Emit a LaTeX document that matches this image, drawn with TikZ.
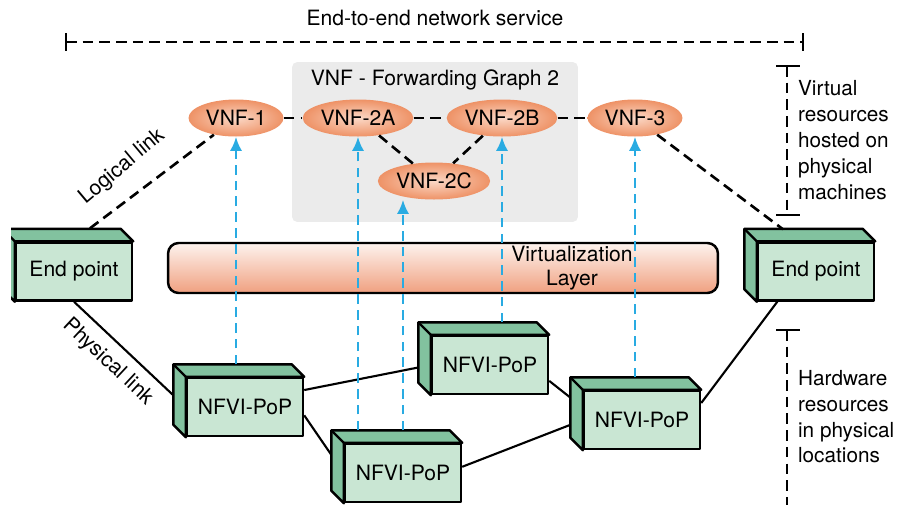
\documentclass[tikz,border=0pt]{standalone}
\usepackage{fontspec}
\setmainfont{TeX Gyre Heros}
\usepackage{tikz}
\usetikzlibrary{calc}
\usetikzlibrary{arrows.meta, shapes.geometric}
\usetikzlibrary{backgrounds}

\definecolor{boxfront}{HTML}{C9E6D3}
\definecolor{boxside}{HTML}{82C29F}
\definecolor{vnfin}{HTML}{FBD8C6}
\definecolor{vnfout}{HTML}{EE9266}
\definecolor{layertop}{HTML}{FDF3EE}
\definecolor{layerbot}{HTML}{F0A080}
\definecolor{graphbg}{HTML}{EBEBEB}
\definecolor{virtblue}{HTML}{29ABE2}

\tikzset{
  frontbox/.style={draw, line width=1.4pt, fill=boxfront, minimum width=2.32cm,
    minimum height=1.16cm, line join=round},
  sideface/.style={draw, line width=1.4pt, fill=boxside, line join=round},
  vnf/.style={ellipse, shading=radial, inner color=vnfin, outer color=vnfout,
    minimum width=1.9cm, minimum height=0.74cm, inner sep=1pt},
  logical/.style={line width=1.5pt, dash pattern=on 6pt off 3.5pt},
  physical/.style={line width=1.2pt},
  virtlink/.style={virtblue, line width=1.4pt, dash pattern=on 5.5pt off 3.5pt,
    -{Latex[length=8pt,width=7pt]}},
  span/.style={line width=1.4pt, dash pattern=on 6pt off 3.5pt},
  spantick/.style={line width=1.4pt},
  layerbar/.style={draw, line width=1.4pt, rounded corners=6pt, top color=layertop,
    bottom color=layerbot, minimum width=11cm, minimum height=1cm},
  graphbox/.style={fill=graphbg, rounded corners=3pt, minimum width=5.72cm,
    minimum height=3.2cm},
}

% hardware box with a top and a left face
\newcommand{\hwbox}[3]{%
  \node[frontbox] (#1) at (#2) {#3};
  \draw[sideface] (#1.south west) -- ++(-\dep,-\dep) |- ($(#1.north east)+(-\dep,-\dep)$)
    -- (#1.north east) -- (#1.north west) -- cycle;
  \draw[line width=1.4pt] (#1.north west) -- ++(-\dep,-\dep);
  \coordinate (#1-top) at ($(#1.north)+(-\dep,-\dep)$);
}

\begin{document}
\begin{tikzpicture}[x=0.02cm, y=-0.02cm, font=\fontsize{12}{15}\selectfont]
    \def\dep{12.5}; % depth of the boxes
    \useasboundingbox (0,0) rectangle (900,505);

    % service span %%%%%%%%%%%%%%%%%%%%%%%%%%%%%%%%%%%%%%%%%%%%%%%%%%%%%%%%%%%%%%%%%%%%%%%%%%%
    \node (service) at (435,18) {End-to-end network service};
    \coordinate (svcl) at (66,42);
    \coordinate (svcr) at (803,42);
    \draw[span] (svcl) -- (svcr);
    \draw[spantick] ($(svcl)+(0,-9)$) -- ($(svcl)+(0,9)$);
    \draw[spantick] ($(svcr)+(0,-9)$) -- ($(svcr)+(0,9)$);

    % right brackets %%%%%%%%%%%%%%%%%%%%%%%%%%%%%%%%%%%%%%%%%%%%%%%%%%%%%%%%%%%%%%%%%%%%%%%%%%
    \coordinate (virttop) at (787,66);
    \coordinate (virtbot) at (787,215);
    \draw[span] (virttop) -- (virtbot);
    \draw[spantick] ($(virttop)+(-11,0)$) -- ($(virttop)+(13,0)$);
    \draw[spantick] ($(virtbot)+(-11,0)$) -- ($(virtbot)+(13,0)$);
    \node[anchor=west, align=left, inner sep=1pt, font=\fontsize{11.8}{14.8}\selectfont]
      (virtnote) at (796,140) {Virtual\\resources\\hosted on\\physical\\machines};

    \coordinate (hwtop) at (787,330);
    \coordinate (hwbot) at (787,505);
    \draw[span] (hwtop) -- (hwbot);
    \draw[spantick] ($(hwtop)+(-11,0)$) -- ($(hwtop)+(13,0)$);
    \node[anchor=west, align=left, inner sep=1pt, font=\fontsize{11.8}{14.6}\selectfont]
      (hwnote) at (796,417) {Hardware\\resources\\in physical\\locations};

    % forwarding graph %%%%%%%%%%%%%%%%%%%%%%%%%%%%%%%%%%%%%%%%%%%%%%%%%%%%%%%%%%%%%%%%%%%%%%%%
    \node[graphbox] (fg) at (435,142) {};
    \node (fgtitle) at (435,80) {VNF - Forwarding Graph 2};

    \node[vnf] (vnf1)  at (236,118) {VNF-1};
    \node[vnf] (vnf2a) at (358,118) {VNF-2A};
    \node[vnf] (vnf2b) at (502,118) {VNF-2B};
    \node[vnf] (vnf3)  at (635,118) {VNF-3};
    \node[vnf] (vnf2c) at (434,181) {VNF-2C};

    % virtualization layer %%%%%%%%%%%%%%%%%%%%%%%%%%%%%%%%%%%%%%%%%%%%%%%%%%%%%%%%%%%%%%%%%%%
    \node[layerbar] (virt) at (443,268) {};
    \node[align=center, font=\fontsize{12}{14}\selectfont] (virttext) at (572,268)
      {Virtualization\\Layer};

    % end points and NFVI-PoPs %%%%%%%%%%%%%%%%%%%%%%%%%%%%%%%%%%%%%%%%%%%%%%%%%%%%%%%%%%%%%%%
    \begin{scope}
      \clip (11,0) rectangle (900,505);
      \hwbox{ep1}{74,271.5}{End point}
    \end{scope}
    \hwbox{ep2}{816,271.5}{End point}
    \hwbox{pop1}{245,407}{NFVI-PoP}
    \hwbox{pop2}{490,365}{NFVI-PoP}
    \hwbox{pop3}{403,473}{NFVI-PoP}
    \hwbox{pop4}{642,420}{NFVI-PoP}

    % physical links %%%%%%%%%%%%%%%%%%%%%%%%%%%%%%%%%%%%%%%%%%%%%%%%%%%%%%%%%%%%%%%%%%%%%%%%%%
    \begin{scope}[on background layer]
      \draw[physical] (ep1.south) -- (pop1.west);
      \draw[physical] (pop1.16) -- (pop2.west);
      \draw[physical] (pop1.-8) -- (pop3.west);
      \draw[physical] (pop3.6) -- (pop4.west);
      \draw[physical] (pop2.-15) -- (pop4.168);
      \draw[physical] (pop4.16) -- (ep2.218);
    \end{scope}

    % logical links %%%%%%%%%%%%%%%%%%%%%%%%%%%%%%%%%%%%%%%%%%%%%%%%%%%%%%%%%%%%%%%%%%%%%%%%%%%
    \draw[logical] ($(ep1.north)+(16,-13)$) -- (vnf1);
    \draw[logical] (vnf1) -- (vnf2a);
    \draw[logical] (vnf2a) -- (vnf2b);
    \draw[logical] (vnf2b) -- (vnf3);
    \draw[logical] (vnf2a) -- (vnf2c);
    \draw[logical] (vnf2b) -- (vnf2c);
    \draw[logical] (vnf3) -- ($(ep2.north)+(-33,-12)$);

    % virtual links %%%%%%%%%%%%%%%%%%%%%%%%%%%%%%%%%%%%%%%%%%%%%%%%%%%%%%%%%%%%%%%%%%%%%%%%%%%
    \draw[virtlink] (vnf1.south |- pop1-top) -- (vnf1.south);
    \draw[virtlink] (vnf2a.south |- pop3-top) -- (vnf2a.south);
    \draw[virtlink] (pop3.north |- pop3-top) -- (pop3.north |- vnf2c.south);
    \draw[virtlink] (vnf2b.south |- pop2-top) -- (vnf2b.south);
    \draw[virtlink] (vnf3.south |- pop4-top) -- (vnf3.south);

    % annotations %%%%%%%%%%%%%%%%%%%%%%%%%%%%%%%%%%%%%%%%%%%%%%%%%%%%%%%%%%%%%%%%%%%%%%%%%%%%%
    \node[rotate=40] (logicaltext) at (122,167) {Logical link};
    \node[rotate=-43] (physicaltext) at (108,362) {Physical link};
\end{tikzpicture}
\end{document}
